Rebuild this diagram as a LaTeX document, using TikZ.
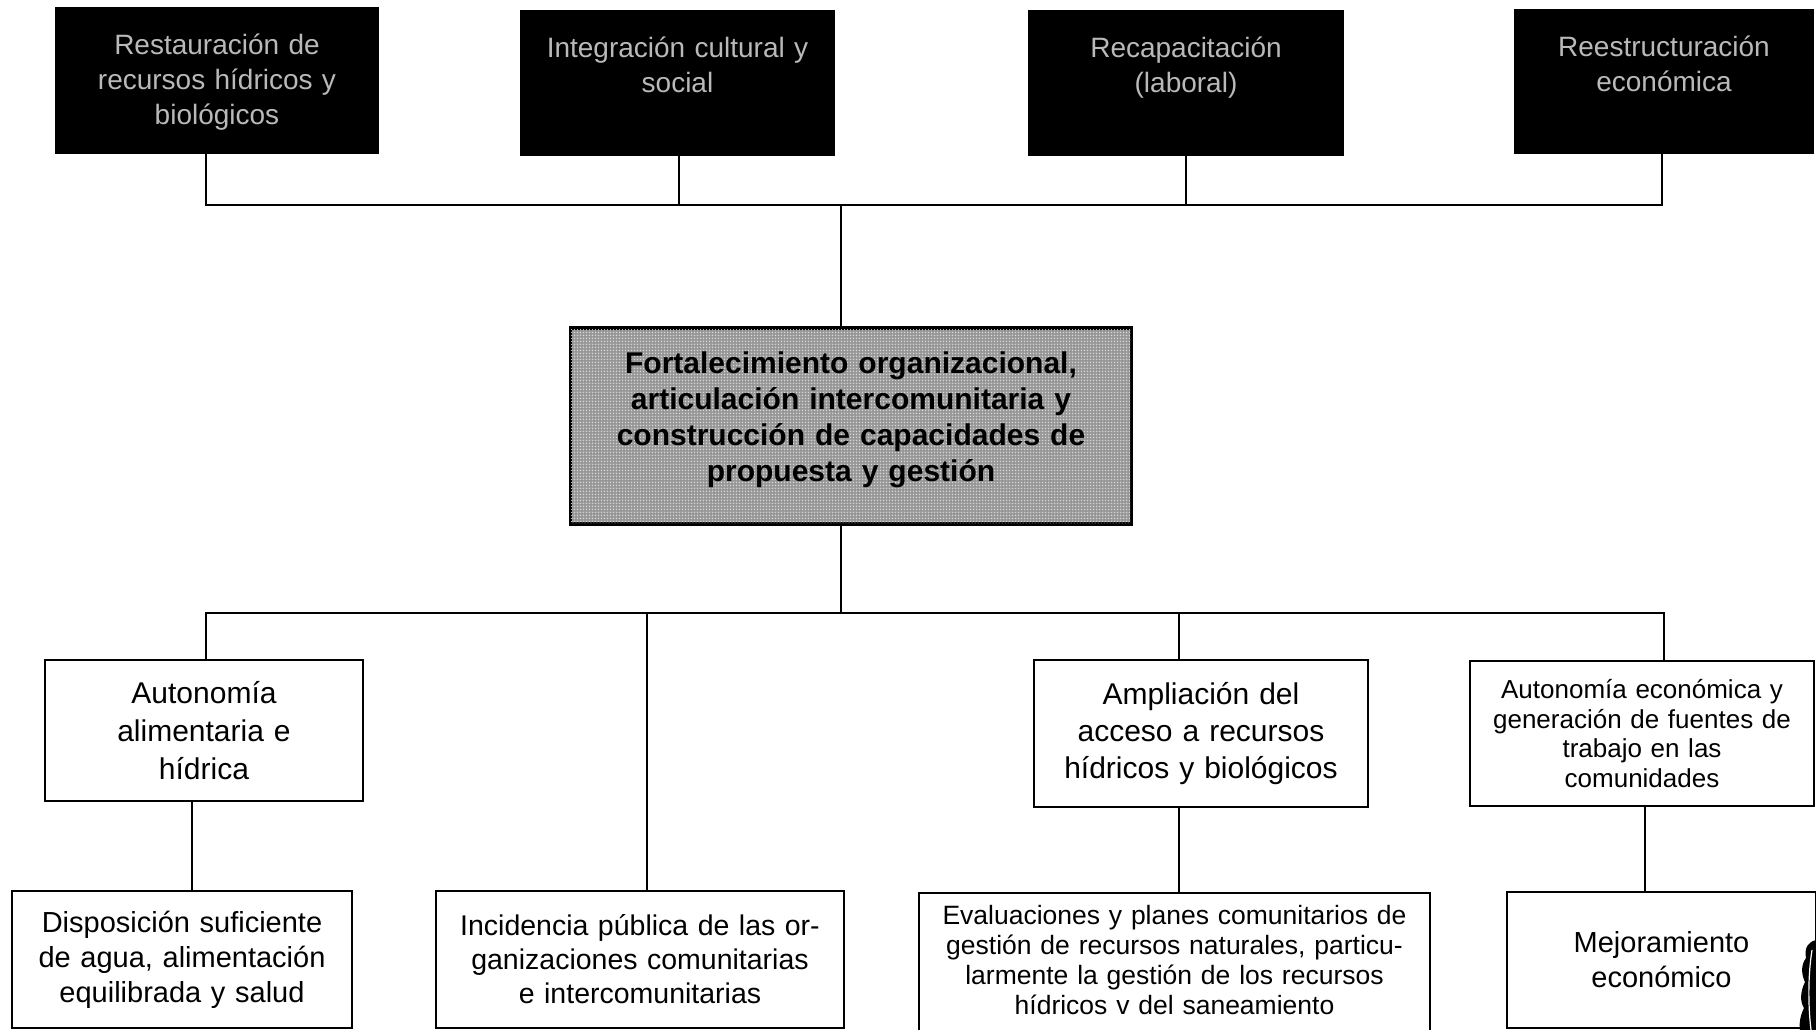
\documentclass[tikz,border=0pt]{standalone}
\usepackage{fontspec}
\setmainfont{Liberation Sans}
\usetikzlibrary{patterns}
\begin{document}
\begin{tikzpicture}[x=1pt,y=-1pt,
  line width=2.4pt,
  blackbox/.style={draw=black,fill=black,inner sep=0pt},
  darktext/.style={text=gray!55,align=center,font=\fontsize{28}{35}\selectfont,anchor=north},
  whitebox/.style={draw=black,fill=white,inner sep=0pt,align=center},
  conn/.style={draw=black,line width=2.4pt}]
\useasboundingbox (0,0) rectangle (1816,1030);
\fill[white] (0,0) rectangle (1816,1030);

% top black boxes
\node[blackbox,minimum width=322,minimum height=145] (t1) at (217,80.5) {};
\node[blackbox,minimum width=313,minimum height=144] (t2) at (677.5,83) {};
\node[blackbox,minimum width=314,minimum height=144] (t3) at (1186,83) {};
\node[blackbox,minimum width=298,minimum height=143] (t4) at (1664,81.5) {};
\node[darktext,text width=300] (l1) at ([yshift=-23pt]t1.north) {Restauración de\\recursos hídricos y\\biológicos};
\node[darktext,text width=300] (l2) at ([yshift=-23pt]t2.north) {Integración cultural y\\social};
\node[darktext,text width=300] (l3) at ([yshift=-23pt]t3.north) {Recapacitación\\(laboral)};
\node[darktext,text width=290] (l4) at ([yshift=-23pt]t4.north) {Reestructuración\\económica};

% center box
\node[draw=black,fill=gray!75,inner sep=0pt,minimum width=560,minimum height=195] (c) at (851,426) {};
\fill[pattern=crosshatch dots,pattern color=white!80!gray] (c.south west) rectangle (c.north east);
\fill[pattern=dots,pattern color=black!80] (c.south west) rectangle (c.north east);
\draw (c.south west) rectangle (c.north east);
\node[align=center,font=\fontsize{30}{36}\selectfont\bfseries,text=black,text width=560] (ct) at ([yshift=6pt]c.center) {Fortalecimiento organizacional,\\articulación intercomunitaria y\\construcción de capacidades de\\propuesta y gestión};

% row 2
\node[whitebox,minimum width=318,minimum height=141,text width=300,font=\fontsize{30}{38}\selectfont] (a) at (204,730.5) {Autonomía\\alimentaria e\\hídrica};
\node[whitebox,minimum width=334,minimum height=147,text width=320,font=\fontsize{30}{37}\selectfont] (b) at (1201,733.5) {Ampliación del\\acceso a recursos\\hídricos y biológicos};
\node[whitebox,minimum width=344,minimum height=145,text width=340,font=\fontsize{26}{29.5}\selectfont] (d) at (1642,733.5) {Autonomía económica y\\generación de fuentes de\\trabajo en las\\comunidades};

% row 3
\node[whitebox,minimum width=340,minimum height=137,text width=330,font=\fontsize{29}{35}\selectfont] (e) at (182,959.5) {Disposición suficiente\\de agua, alimentación\\equilibrada y salud};
\node[whitebox,minimum width=408,minimum height=137,text width=400,font=\fontsize{28.5}{34}\selectfont] (f) at (640,959.5) {Incidencia pública de las or-\\ganizaciones comunitarias\\e intercomunitarias};
\node[whitebox,minimum width=511,minimum height=150] (g) at (1174.5,968) {};
\node[align=center,text width=505,font=\fontsize{26.5}{30}\selectfont,anchor=north] (gt) at ([yshift=-9pt]g.north) {Evaluaciones y planes comunitarios de\\gestión de recursos naturales, particu-\\larmente la gestión de los recursos\\hídricos v del saneamiento};
\node[whitebox,minimum width=309,minimum height=136,text width=300,font=\fontsize{29}{35}\selectfont] (h) at (1661.5,960) {Mejoramiento\\económico};

% top connectors
\coordinate (bt) at (841,205);
\draw[conn] (t1.south -| 206,0) |- (bt);
\draw[conn] (t4.south -| 1662,0) |- (bt);
\draw[conn] (t2.south -| 679,0) -- (679,205);
\draw[conn] (t3.south -| 1186,0) -- (1186,205);
\draw[conn] (bt) -- (c.north -| bt);

% bottom bus
\coordinate (bb) at (841,613);
\draw[conn] (c.south -| bb) -- (bb);
\draw[conn] (a.north -| 206,0) |- (bb);
\draw[conn] (d.north -| 1664,0) |- (bb);
\draw[conn] (f.north -| 647,0) -- (647,613);
\draw[conn] (b.north -| 1179,0) -- (1179,613);

% lower connectors
\draw[conn] (a.south -| 192,0) -- (e.north -| 192,0);
\draw[conn] (b.south -| 1179,0) -- (g.north -| 1179,0);
\draw[conn] (d.south -| 1645,0) -- (h.north -| 1645,0);

% scan artifact at bottom right
\fill[black] (1816,940) .. controls (1808,942) and (1804,948) .. (1806,958)
  .. controls (1800,966) and (1802,976) .. (1805,982)
  .. controls (1800,992) and (1800,1002) .. (1804,1008)
  .. controls (1800,1016) and (1799,1024) .. (1800,1030) -- (1816,1030) -- cycle;
\draw[white,line width=1.2pt] (1812,950) .. controls (1808,975) and (1808,1005) .. (1811,1030);
\end{tikzpicture}
\end{document}
